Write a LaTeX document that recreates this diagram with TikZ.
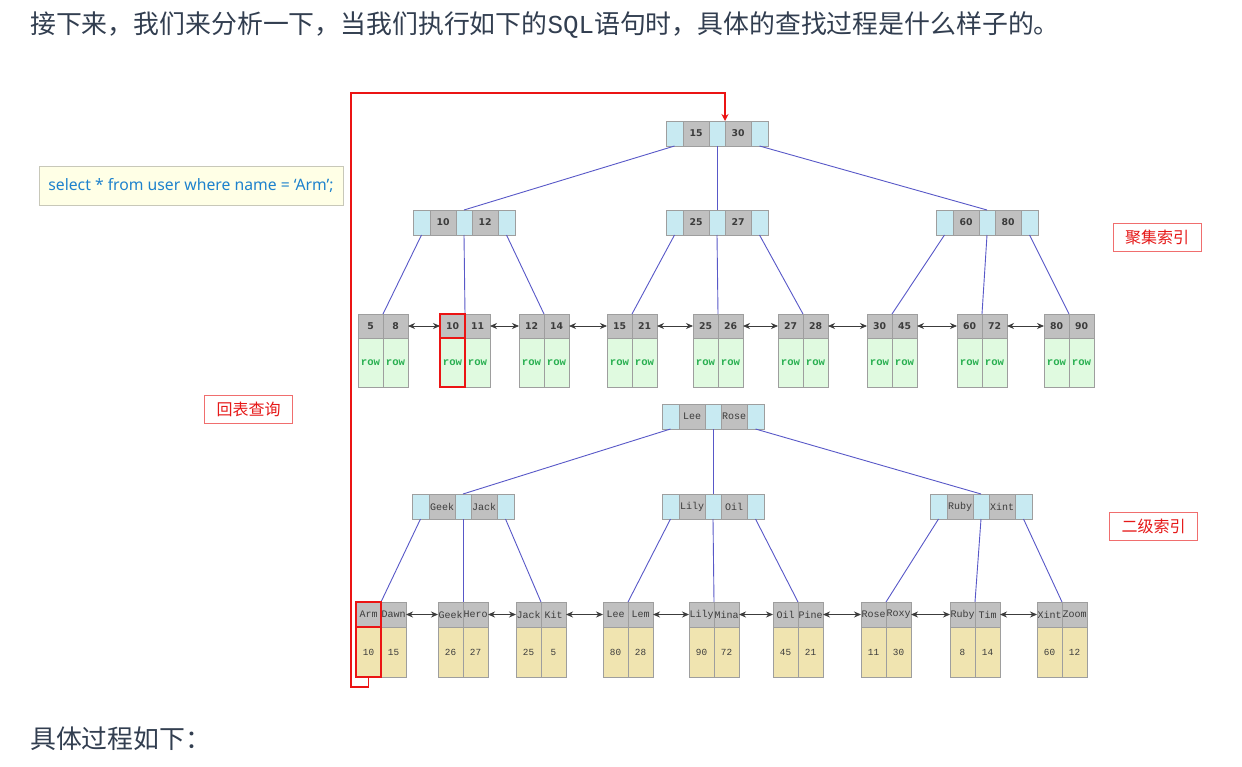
\documentclass[tikz,border=0pt]{standalone}
\usepackage{fontspec}
\setmonofont{Liberation Mono}
\newfontfamily\cjk{Noto Sans CJK SC}
\newfontfamily\keyfont{DejaVu Sans}
\newfontfamily\sqlfont{Noto Sans}
\usetikzlibrary{arrows.meta,positioning}

\newlength{\du}
\setlength{\du}{0.75pt}

\definecolor{ptrcolor}{RGB}{200,234,242}
\definecolor{keycolor}{RGB}{192,192,192}
\definecolor{cellline}{RGB}{158,158,158}
\definecolor{edgecolor}{RGB}{88,88,200}
\definecolor{linkcolor}{RGB}{60,60,60}
\definecolor{rowfill}{RGB}{224,250,224}
\definecolor{rowtext}{RGB}{40,175,80}
\definecolor{tanfill}{RGB}{240,228,176}
\definecolor{hired}{RGB}{235,20,20}
\definecolor{tagline}{RGB}{240,110,110}
\definecolor{tagred}{RGB}{230,25,25}
\definecolor{sqlfill}{RGB}{255,255,230}
\definecolor{sqlline}{RGB}{200,200,185}
\definecolor{sqltext}{RGB}{30,130,205}
\definecolor{bodytext}{RGB}{50,62,80}

\tikzset{
  cell/.style={draw=cellline, line width=0.8\du, inner sep=0pt, outer sep=0pt, anchor=north west},
  ptrcell/.style={cell, fill=ptrcolor, minimum height=25\du},
  keycell/.style={cell, fill=keycolor, minimum height=25\du, minimum width=26\du},
  numkey/.style={font=\keyfont\bfseries\fontsize{7}{8}\selectfont, text=linkcolor},
  namekey/.style={font=\ttfamily\fontsize{7.5}{8}\selectfont, text=linkcolor},
  chead/.style={cell, fill=keycolor, minimum width=25\du, minimum height=24\du, numkey},
  cbody/.style={cell, fill=rowfill, minimum width=25\du, minimum height=49\du,
    font=\ttfamily\bfseries\fontsize{8}{9}\selectfont, text=rowtext},
  shead/.style={cell, fill=keycolor, minimum width=25\du, minimum height=25\du, namekey},
  sbody/.style={cell, fill=tanfill, minimum width=25\du, minimum height=50\du,
    font=\ttfamily\fontsize{7}{8}\selectfont, text=linkcolor},
  treeline/.style={draw=edgecolor, line width=0.9\du},
  leaflink/.style={draw=linkcolor, line width=0.8\du,
    arrows={Stealth[length=5.25pt,width=4.5pt]-Stealth[length=5.25pt,width=4.5pt]}},
  hilite/.style={draw=hired, line width=1.6\du},
  backline/.style={draw=hired, line width=1.3\du, arrows={-Stealth[length=5.25pt,width=5.25pt]}},
  tagbox/.style={draw=tagline, line width=0.8\du, text=tagred, inner sep=0pt,
    minimum width=88\du, minimum height=28\du, font=\cjk\fontsize{12}{14}\selectfont},
  sqlbox/.style={draw=sqlline, fill=sqlfill, line width=0.8\du, text=sqltext, inner sep=0pt,
    minimum width=304\du, minimum height=39\du, font=\sqlfont\fontsize{11.8}{14}\selectfont},
  bodyline/.style={anchor=west, inner sep=0pt, text=bodytext, font=\cjk\fontsize{19.4}{23}\selectfont}
}

% inner node: name, x, y, key1, key2, key style
\newcommand{\keynode}[6]{%
  \node[ptrcell, minimum width=17\du] (#1-a) at (#2,#3) {};
  \node[keycell, #6] (#1-k1) at (#1-a.north east) {#4};
  \node[ptrcell, minimum width=16\du] (#1-b) at (#1-k1.north east) {};
  \node[keycell, #6] (#1-k2) at (#1-b.north east) {#5};
  \node[ptrcell, minimum width=17\du] (#1-c) at (#1-k2.north east) {};
}
% leaf: name, x, y, key1, key2, val1, val2, head style, body style
\newcommand{\leafnode}[9]{%
  \node[#8] (#1-k1) at (#2,#3) {#4};
  \node[#8] (#1-k2) at (#1-k1.north east) {#5};
  \node[#9] (#1-v1) at (#1-k1.south west) {#6};
  \node[#9] (#1-v2) at (#1-v1.north east) {#7};
}

\begin{document}
\begin{tikzpicture}[x=\du, y=-\du]
\path[fill=white] (0,0) rectangle (1242,767);
\useasboundingbox (0,0) rectangle (1242,767);

\node[bodyline] (intro) at (30,25) {接下来，我们来分析一下，当我们执行如下的{\ttfamily SQL}语句时，具体的查找过程是什么样子的。};
\node[bodyline] (outro) at (30,739) {具体过程如下：};

\node[sqlbox] (sql) at (191,185.5) {select * from user where name = ‘Arm’;};
\node[tagbox] (tag-cluster) at (1157,237) {聚集索引};
\node[tagbox] (tag-second) at (1153.5,526.5) {二级索引};
\node[tagbox] (tag-back) at (248.5,409) {回表查询};

% clustered index
\keynode{cr}{666}{121}{15}{30}{numkey}
\keynode{cl}{413}{210}{10}{12}{numkey}
\keynode{cm}{666}{210}{25}{27}{numkey}
\keynode{cq}{936}{210}{60}{80}{numkey}

\leafnode{c1}{358}{314}{5}{8}{row}{row}{chead}{cbody}
\leafnode{c2}{440}{314}{10}{11}{row}{row}{chead}{cbody}
\leafnode{c3}{519}{314}{12}{14}{row}{row}{chead}{cbody}
\leafnode{c4}{607}{314}{15}{21}{row}{row}{chead}{cbody}
\leafnode{c5}{693}{314}{25}{26}{row}{row}{chead}{cbody}
\leafnode{c6}{778}{314}{27}{28}{row}{row}{chead}{cbody}
\leafnode{c7}{867}{314}{30}{45}{row}{row}{chead}{cbody}
\leafnode{c8}{957}{314}{60}{72}{row}{row}{chead}{cbody}
\leafnode{c9}{1044}{314}{80}{90}{row}{row}{chead}{cbody}

\draw[treeline] (cr-a.south) -- (cl-b.north);
\draw[treeline] (cr-b.south) -- (cm-b.north);
\draw[treeline] (cr-c.south) -- (cq-b.north);
\draw[treeline] (cl-a.south) -- (c1-k1.north east);
\draw[treeline] (cl-b.south) -- (c2-k1.north east);
\draw[treeline] (cl-c.south) -- (c3-k1.north east);
\draw[treeline] (cm-a.south) -- (c4-k1.north east);
\draw[treeline] (cm-b.south) -- (c5-k1.north east);
\draw[treeline] (cm-c.south) -- (c6-k1.north east);
\draw[treeline] (cq-a.south) -- (c7-k1.north east);
\draw[treeline] (cq-b.south) -- (c8-k1.north east);
\draw[treeline] (cq-c.south) -- (c9-k1.north east);

\draw[leaflink] (c1-k2.east) -- (c2-k1.west);
\draw[leaflink] (c2-k2.east) -- (c3-k1.west);
\draw[leaflink] (c3-k2.east) -- (c4-k1.west);
\draw[leaflink] (c4-k2.east) -- (c5-k1.west);
\draw[leaflink] (c5-k2.east) -- (c6-k1.west);
\draw[leaflink] (c6-k2.east) -- (c7-k1.west);
\draw[leaflink] (c7-k2.east) -- (c8-k1.west);
\draw[leaflink] (c8-k2.east) -- (c9-k1.west);

% secondary index
\keynode{sr}{662}{404}{Lee}{Rose}{namekey}
\keynode{sl}{412}{494}{Geek}{Jack}{namekey}
\keynode{sm}{662}{494}{Lily}{Oil}{namekey}
\keynode{sq}{930}{494}{Ruby}{Xint}{namekey}

\leafnode{s1}{356}{602}{Arm}{Dawn}{10}{15}{shead}{sbody}
\leafnode{s2}{438}{602}{Geek}{Hero}{26}{27}{shead}{sbody}
\leafnode{s3}{516}{602}{Jack}{Kit}{25}{5}{shead}{sbody}
\leafnode{s4}{603}{602}{Lee}{Lem}{80}{28}{shead}{sbody}
\leafnode{s5}{689}{602}{Lily}{Mina}{90}{72}{shead}{sbody}
\leafnode{s6}{773}{602}{Oil}{Pine}{45}{21}{shead}{sbody}
\leafnode{s7}{861}{602}{Rose}{Roxy}{11}{30}{shead}{sbody}
\leafnode{s8}{950}{602}{Ruby}{Tim}{8}{14}{shead}{sbody}
\leafnode{s9}{1037}{602}{Xint}{Zoom}{60}{12}{shead}{sbody}

\draw[treeline] (sr-a.south) -- (sl-b.north);
\draw[treeline] (sr-b.south) -- (sm-b.north);
\draw[treeline] (sr-c.south) -- (sq-b.north);
\draw[treeline] (sl-a.south) -- (s1-k1.north east);
\draw[treeline] (sl-b.south) -- (s2-k1.north east);
\draw[treeline] (sl-c.south) -- (s3-k1.north east);
\draw[treeline] (sm-a.south) -- (s4-k1.north east);
\draw[treeline] (sm-b.south) -- (s5-k1.north east);
\draw[treeline] (sm-c.south) -- (s6-k1.north east);
\draw[treeline] (sq-a.south) -- (s7-k1.north east);
\draw[treeline] (sq-b.south) -- (s8-k1.north east);
\draw[treeline] (sq-c.south) -- (s9-k1.north east);

\draw[leaflink] (s1-k2.east) -- (s2-k1.west);
\draw[leaflink] (s2-k2.east) -- (s3-k1.west);
\draw[leaflink] (s3-k2.east) -- (s4-k1.west);
\draw[leaflink] (s4-k2.east) -- (s5-k1.west);
\draw[leaflink] (s5-k2.east) -- (s6-k1.west);
\draw[leaflink] (s6-k2.east) -- (s7-k1.west);
\draw[leaflink] (s7-k2.east) -- (s8-k1.west);
\draw[leaflink] (s8-k2.east) -- (s9-k1.west);

% lookup path
\draw[hilite] (c2-k1.north west) rectangle (c2-k1.south east);
\draw[hilite] (c2-v1.north west) rectangle (c2-v1.south east);
\draw[hilite] (s1-k1.north west) rectangle (s1-k1.south east);
\draw[hilite] (s1-v1.north west) rectangle (s1-v1.south east);
\coordinate (backcorner) at (351,93);
\draw[backline] (s1-v1.south) -- ++(0,10) -| (backcorner) -| (cr-k2.north west);
\end{tikzpicture}
\end{document}
